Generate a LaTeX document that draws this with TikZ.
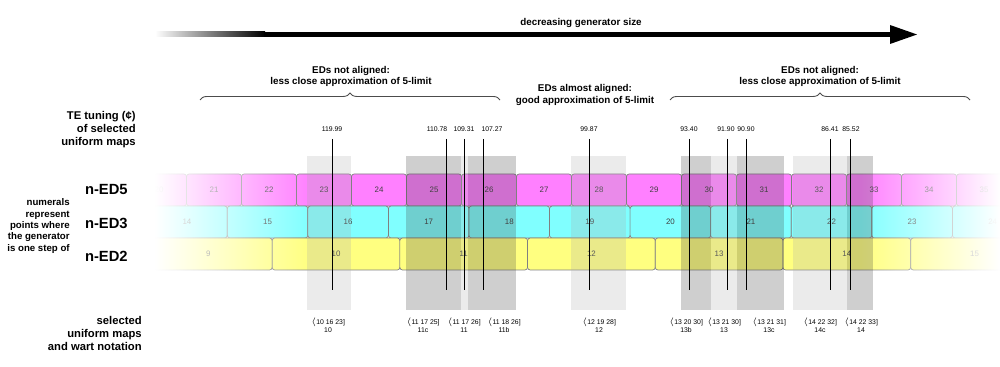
\documentclass[tikz,border=0pt]{standalone}
\usepackage{fontspec}
\setmainfont{Liberation Sans}
\usetikzlibrary{decorations.pathreplacing,fadings}

\definecolor{edfive}{RGB}{255,128,255}
\definecolor{edthree}{RGB}{128,255,255}
\definecolor{edtwo}{RGB}{255,255,128}
\tikzfading[name=fadeleft, left color=transparent!0, right color=transparent!100]
\tikzfading[name=faderight, left color=transparent!100, right color=transparent!0]

\begin{document}
\begin{tikzpicture}[x=0.02cm, y=-0.02cm,
	edcell/.style={draw=black!50, line width=0.4pt, rounded corners=1.5pt},
	ednum/.style={text=black!75, font=\fontsize{4.5}{5}\selectfont, inner sep=0pt},
	smallnum/.style={font=\fontsize{3.9}{4.7}\selectfont, inner sep=0pt, align=center},
	sidelbl/.style={font=\bfseries\fontsize{6.4}{7.3}\selectfont, align=right, anchor=east, inner sep=0pt},
	notelbl/.style={font=\bfseries\fontsize{5.5}{6.5}\selectfont, align=right, anchor=east, inner sep=0pt},
	edlbl/.style={font=\bfseries\fontsize{8.4}{9}\selectfont, anchor=east, inner sep=0pt},
	hdr/.style={font=\bfseries\fontsize{5.6}{6.4}\selectfont, align=center, inner sep=0pt},
	brc/.style={decorate, decoration={brace, amplitude=4pt}, draw=black!70, line width=0.5pt},
	lightcol/.style={fill=black!33, opacity=0.24},
	darkcol/.style={fill=black!75, opacity=0.25},
	tline/.style={line width=0.55pt}]
	\useasboundingbox (0,0) rectangle (1000,367);

	% direction arrow
	\shade[left color=white, right color=black] (155,32) rectangle (265,37);
	\fill (264,32) rectangle (892,37);
	\fill (890,25) -- (917,34.5) -- (890,44) -- cycle;
	\node[hdr] (dir) at (581,23) {decreasing generator size};

	% braces
	\node[hdr] (leftgap) at (351,76.5) {EDs not aligned:\\less close approximation of 5-limit};
	\node[hdr] (midgap) at (585,95) {EDs almost aligned:\\good approximation of 5-limit};
	\node[hdr] (rightgap) at (820,76.5) {EDs not aligned:\\less close approximation of 5-limit};
	\draw[brc] (200,100) -- (500,100);
	\draw[brc] (670,100) -- (970,100);

	% side labels
	\node[sidelbl] (tetune) at (136,129.5) {TE tuning (¢)\\of selected\\uniform maps};
	\node[edlbl] (ned5) at (128,189) {n-ED5};
	\node[edlbl] (ned3) at (128,223) {n-ED3};
	\node[edlbl] (ned2) at (128,256) {n-ED2};
	\node[notelbl] (numerals) at (70,226) {numerals\\represent\\points where\\the generator\\is one step of};
	\node[sidelbl] (selmaps) at (142,333.5) {selected\\uniform maps\\and wart notation};

	% the three rows of ED steps
	\begin{scope}
		\clip (155,150) rectangle (1000,280);
		\foreach \n in {20,...,35} {
			\draw[edcell, fill=edfive] ({-968.5+55*\n},174) rectangle ++(55,32);
			\node[ednum] (a\n) at ({-941+55*\n},190) {\n};
		}
		\foreach \m in {14,...,24} {
			\draw[edcell, fill=edthree] ({-981.28+80.57*\m},206) rectangle ++(80.57,32);
			\node[ednum] (b\m) at ({-941+80.57*\m},222) {\m};
		}
		\foreach \k in {9,...,15} {
			\draw[edcell, fill=edtwo] ({-1004.85+127.7*\k},238) rectangle ++(127.7,32);
			\node[ednum] (c\k) at ({-941+127.7*\k},254) {\k};
		}
		\fill[white, path fading=fadeleft] (155,150) rectangle (310,280);
		\fill[white, path fading=faderight] (860,150) rectangle (1000,280);
	\end{scope}

	% selected uniform maps
	\fill[lightcol] (307,156) rectangle (351,310);
	\fill[darkcol] (406,156) rectangle (461,310);
	\fill[lightcol] (461,156) rectangle (468,310);
	\fill[darkcol] (468,156) rectangle (516,310);
	\fill[lightcol] (571,156) rectangle (626,310);
	\fill[darkcol] (681,156) rectangle (711,310);
	\fill[lightcol] (711,156) rectangle (737,310);
	\fill[darkcol] (737,156) rectangle (784,310);
	\fill[lightcol] (793,156) rectangle (847,310);
	\fill[darkcol] (847,156) rectangle (873,310);

	\foreach \x in {332,446,464,483,589,689,727,746,830,850}
		\draw[tline] (\x,139) -- (\x,290);

	\foreach \x/\v in {332/119.99, 437/110.78, 464/109.31, 492/107.27, 589/99.87,
			689/93.40, 726/91.90, 746/90.90, 830/86.41, 851/85.52}
		\node[smallnum] (t\x) at (\x,129) {\v};

	\foreach \x/\mp/\w in {328/10 16 23/10, 423/11 17 25/11c, 464/11 17 26/11,
			504/11 18 26/11b, 599/12 19 28/12, 686/13 20 30/13b, 724/13 21 30/13,
			769/13 21 31/13c, 820/14 22 32/14c, 861/14 22 33/14}
		\node[smallnum] (w\x) at (\x,325.5) {$\langle$\mp]\\\w};

\end{tikzpicture}
\end{document}
